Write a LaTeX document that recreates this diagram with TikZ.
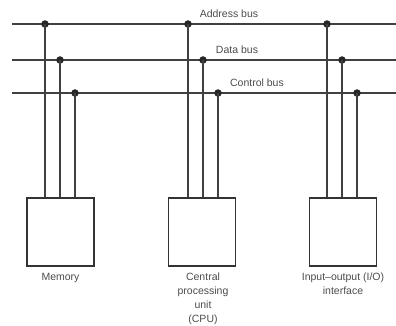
\documentclass[tikz,border=0pt]{standalone}
\usepackage{fontspec}
\setmainfont{Liberation Sans}
\tikzset{
  bus/.style={draw=black!75,line width=1.4pt},
  tap/.style={draw=black!75,line width=1.2pt},
  unit/.style={draw=black!80,line width=1.4pt,minimum width=67pt,minimum height=68pt,inner sep=0pt},
  junc/.style={circle,fill=black!85,inner sep=0pt,minimum size=7.5pt},
  lbl/.style={text=black!70,font=\fontsize{10.5}{14}\selectfont,align=center,inner sep=0pt}
}
\begin{document}
\begin{tikzpicture}[x=1pt,y=-1pt]
        \useasboundingbox (0,0) rectangle (396,326);

        % the three buses
        \coordinate (as) at (12,24);  \coordinate (ae) at (396,24);
        \coordinate (ds) at (12,60);  \coordinate (de) at (396,60);
        \coordinate (cs) at (12,93);  \coordinate (ce) at (396,93);
        \path[bus] (as) -- (ae);
        \path[bus] (ds) -- (de);
        \path[bus] (cs) -- (ce);

        \node[lbl] (addr) at (229,14) {Address bus};
        \node[lbl] (data) at (237,50) {Data bus};
        \node[lbl] (ctrl) at (257,83) {Control bus};

        % units
        \node[unit] (mem) at (60.5,232) {};
        \node[unit] (cpu) at (202,232) {};
        \node[unit] (io) at (343,232) {};

        \node[lbl,anchor=north] (memtxt) at (60.5,273) {Memory};
        \node[lbl,anchor=north] (cputxt) at (203,273) {Central\\processing\\unit\\(CPU)};
        \node[lbl,anchor=north] (iotxt) at (343,273) {Input--output (I/O)\\interface};

        % junctions
        \node[junc] (m1) at (45,24) {};
        \node[junc] (m2) at (60,60) {};
        \node[junc] (m3) at (75,93) {};
        \node[junc] (c1) at (188,24) {};
        \node[junc] (c2) at (203,60) {};
        \node[junc] (c3) at (218,93) {};
        \node[junc] (i1) at (327,24) {};
        \node[junc] (i2) at (342,60) {};
        \node[junc] (i3) at (357,93) {};

        \path[tap] (m1.center) -- (m1.center |- mem.north);
        \path[tap] (m2.center) -- (m2.center |- mem.north);
        \path[tap] (m3.center) -- (m3.center |- mem.north);
        \path[tap] (c1.center) -- (c1.center |- cpu.north);
        \path[tap] (c2.center) -- (c2.center |- cpu.north);
        \path[tap] (c3.center) -- (c3.center |- cpu.north);
        \path[tap] (i1.center) -- (i1.center |- io.north);
        \path[tap] (i2.center) -- (i2.center |- io.north);
        \path[tap] (i3.center) -- (i3.center |- io.north);
    \end{tikzpicture}
\end{document}
